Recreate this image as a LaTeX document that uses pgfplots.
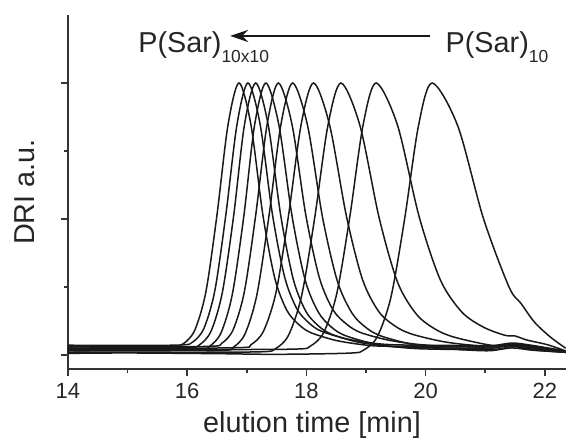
\documentclass[border=0pt]{standalone}
\usepackage{fontspec}
\setmainfont{Liberation Sans}
\usepackage{pgfplots}
\pgfplotsset{compat=1.18}
\usetikzlibrary{arrows.meta}
\tikzset{trace/.style={black!90, solid, mark=none, smooth, line width=0.75pt}}

\begin{document}
\begin{tikzpicture}
\begin{axis}[
    scale only axis, width=249pt, height=177pt,
    xmin=14, xmax=22.356, ymin=-0.103, ymax=2.5,
    axis x line*=bottom, axis y line*=left,
    axis line style={-, line width=0.9pt, black!80},
    xtick={14,16,...,22}, minor x tick num=1,
    ytick={0,1,2}, yticklabels={}, minor y tick num=1,
    tick align=outside, major tick length=3.5pt, minor tick length=2pt,
    tick style={black!80, line width=0.8pt},
    /pgf/number format/assume math mode=true,
    ticklabel style={font=\fontsize{11}{13}\selectfont, black!85},
    xlabel={elution time [min]}, ylabel={DRI a.u.},
    xlabel style={at={(axis description cs:0.49,-0.158)}, anchor=center,
        font=\fontsize{14.4}{17}\selectfont, black!85},
    ylabel style={at={(axis description cs:-0.086,0.5)}, anchor=center,
        font=\fontsize{14.4}{17}\selectfont, black!85},
]
% P(Sar)10 x1 ... x10, left to right by peak time
\addplot[trace] coordinates {(14,0.065)(15,0.062)(15.76,0.064)(15.945,0.086)(16.13,0.185)(16.315,0.467)(16.50,1.03)(16.685,1.692)(16.87,2)(17.07,1.692)(17.27,1.03)(17.47,0.565)(17.67,0.33)(17.87,0.225)(18.07,0.165)(18.47,0.11)(18.87,0.08)(19.27,0.065)(20.5,0.06)(21.1,0.06)(21.45,0.078)(21.8,0.062)(22.35,0.025)};
\addplot[trace] coordinates {(14,0.072)(15,0.07)(15.91,0.074)(16.095,0.096)(16.28,0.195)(16.465,0.475)(16.65,1.035)(16.835,1.693)(17.02,2)(17.225,1.693)(17.43,1.035)(17.635,0.573)(17.84,0.34)(18.045,0.235)(18.25,0.175)(18.66,0.12)(19.07,0.09)(19.48,0.075)(20.5,0.07)(21.1,0.068)(21.45,0.088)(21.8,0.07)(22.35,0.03)};
\addplot[trace] coordinates {(14,0.05)(15,0.052)(16.025,0.054)(16.21,0.076)(16.40,0.175)(16.59,0.46)(16.78,1.025)(16.96,1.69)(17.15,2)(17.36,1.69)(17.57,1.025)(17.78,0.557)(17.99,0.322)(18.20,0.215)(18.41,0.155)(18.83,0.098)(19.25,0.07)(19.67,0.055)(20.5,0.05)(21.1,0.05)(21.45,0.07)(21.8,0.052)(22.35,0.02)};
\addplot[trace] coordinates {(14,0.04)(15,0.042)(16.20,0.044)(16.38,0.066)(16.57,0.165)(16.76,0.452)(16.95,1.02)(17.13,1.688)(17.32,2)(17.54,1.688)(17.76,1.02)(17.98,0.55)(18.20,0.315)(18.42,0.205)(18.64,0.145)(19.08,0.088)(19.52,0.06)(19.96,0.045)(21.1,0.04)(21.45,0.062)(21.8,0.043)(22.35,0.02)};
\addplot[trace] coordinates {(14,0.06)(15,0.058)(16.39,0.064)(16.58,0.086)(16.77,0.185)(16.96,0.467)(17.15,1.03)(17.34,1.692)(17.53,2)(17.76,1.692)(17.99,1.03)(18.22,0.565)(18.45,0.33)(18.68,0.225)(18.91,0.165)(19.37,0.11)(19.83,0.08)(20.29,0.065)(21.1,0.06)(21.45,0.08)(21.8,0.062)(22.35,0.025)};
\addplot[trace] coordinates {(14,0.03)(15,0.033)(16.57,0.034)(16.77,0.056)(16.97,0.155)(17.17,0.444)(17.37,1.015)(17.57,1.687)(17.77,2)(18.02,1.687)(18.27,1.015)(18.52,0.543)(18.77,0.305)(19.02,0.195)(19.27,0.137)(19.77,0.079)(20.27,0.05)(20.77,0.035)(21.1,0.032)(21.45,0.052)(21.8,0.035)(22.35,0.02)};
\addplot[trace] coordinates {(14,0.05)(15,0.048)(16.86,0.054)(17.07,0.076)(17.28,0.175)(17.49,0.46)(17.70,1.025)(17.91,1.69)(18.12,2)(18.39,1.69)(18.67,1.025)(18.94,0.557)(19.21,0.322)(19.48,0.215)(19.76,0.155)(20.30,0.098)(20.85,0.07)(21.39,0.07)(21.75,0.058)(22.35,0.025)};
\addplot[trace] coordinates {(14,0.02)(15,0.022)(16,0.02)(17.26,0.024)(17.48,0.046)(17.70,0.145)(17.92,0.436)(18.14,1.01)(18.36,1.685)(18.58,2)(18.90,1.685)(19.22,1.01)(19.53,0.535)(19.85,0.298)(20.17,0.188)(20.49,0.13)(21.12,0.07)(21.45,0.075)(21.76,0.04)(22.35,0.02)};
\addplot[trace] coordinates {(14,0.04)(15,0.042)(16.5,0.04)(17.85,0.044)(18.07,0.066)(18.29,0.165)(18.51,0.452)(18.73,1.02)(18.95,1.688)(19.17,2)(19.53,1.688)(19.89,1.02)(20.25,0.55)(20.61,0.315)(20.97,0.205)(21.33,0.145)(21.5,0.14)(21.7,0.11)(22.05,0.075)(22.35,0.03)};
\addplot[trace] coordinates {(14,0.012)(15,0.015)(16.5,0.01)(17.5,0.005)(18.73,0.014)(18.96,0.036)(19.19,0.135)(19.42,0.428)(19.65,1.005)(19.88,1.684)(20.11,2)(20.54,1.684)(20.97,1.005)(21.40,0.50)(21.6,0.38)(21.83,0.24)(22.1,0.13)(22.35,0.05)};

\draw[line width=1.4pt, black!90, -{Stealth[length=9pt, width=6pt]}]
    (axis cs:20.07,2.346) -- (axis cs:16.72,2.346);
\node[anchor=base west, inner sep=0, font=\fontsize{14.4}{17}\selectfont, black!85]
    at (axis cs:15.174,2.221) {P(Sar)\raisebox{-5pt}{\fontsize{8.7}{10}\selectfont 10x10}};
\node[anchor=base west, inner sep=0, font=\fontsize{14.4}{17}\selectfont, black!85]
    at (axis cs:20.33,2.221) {P(Sar)\raisebox{-5pt}{\fontsize{8.7}{10}\selectfont 10}};

\coordinate (bl) at (rel axis cs:-0.1365,-0.2147);
\coordinate (tr) at (rel axis cs:1,1.0424);
\end{axis}
\pgfresetboundingbox
\path[use as bounding box] (bl) rectangle (tr);
\end{tikzpicture}
\end{document}
